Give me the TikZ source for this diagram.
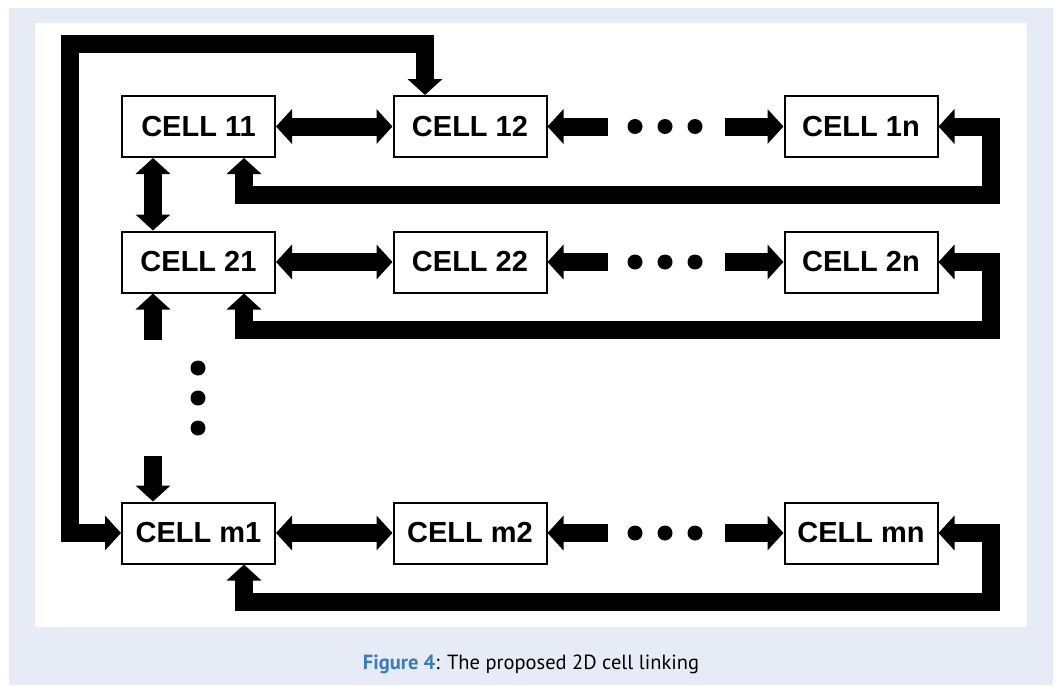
\documentclass[tikz,border=0pt]{standalone}
\usepackage{fontspec}
\setmainfont{Liberation Sans}
\newfontfamily\capfont{PT Sans}
\usetikzlibrary{arrows.meta}
\definecolor{panelblue}{HTML}{E7EBF5}
\definecolor{figblue}{HTML}{3A7BBF}

\begin{document}
\begin{tikzpicture}[
    x=1pt, y=-1pt,
    cell/.style={rectangle, draw=black, line width=2pt, fill=white, minimum width=153pt, minimum height=61pt, inner sep=0pt, font=\fontsize{29}{31}\selectfont\bfseries},
    dot/.style={circle, fill=black, minimum size=15pt, inner sep=0pt},
    arr/.style={line width=18pt, black},
    >={Triangle[width=34pt, length=16pt]}
]
\useasboundingbox (0,0) rectangle (1059,685);
\fill[panelblue] (9,8) rectangle (1053,685);
\fill[white] (35,23) rectangle (1027,627);

\node[cell] (c11) at (198.5,126.5) {CELL 11};
\node[cell] (c12) at (470,126.5)   {CELL 12};
\node[cell] (c1n) at (861,126.5)   {CELL 1n};
\node[cell] (c21) at (198.5,262)   {CELL 21};
\node[cell] (c22) at (470,262)     {CELL 22};
\node[cell] (c2n) at (861,262)     {CELL 2n};
\node[cell] (cm1) at (198.5,533)   {CELL m1};
\node[cell] (cm2) at (470,533)     {CELL m2};
\node[cell] (cmn) at (861,533)     {CELL mn};

\node[dot] (h11) at (635,126.5) {};
\node[dot] (h12) at (665,126.5) {};
\node[dot] (h13) at (695,126.5) {};
\node[dot] (h21) at (635,262) {};
\node[dot] (h22) at (665,262) {};
\node[dot] (h23) at (695,262) {};
\node[dot] (hm1) at (635,533) {};
\node[dot] (hm2) at (665,533) {};
\node[dot] (hm3) at (695,533) {};
\node[dot] (v1) at (198,368) {};
\node[dot] (v2) at (198,398) {};
\node[dot] (v3) at (198,428) {};

\coordinate (a1) at (608,126.5);
\coordinate (b1) at (725,126.5);
\coordinate (a2) at (608,262);
\coordinate (b2) at (725,262);
\coordinate (am) at (608,533);
\coordinate (bm) at (725,533);
\coordinate (r1) at (991,195);
\coordinate (r2) at (991,330);
\coordinate (rm) at (991,602);
\coordinate (top) at (425,44);
\coordinate (lft) at (70,44);
\coordinate (up2) at (153,340);
\coordinate (dnm) at (153,456);

\draw[arr,<->] (c11) -- (c12);
\draw[arr,->] (a1) -- (c12);
\draw[arr,->] (b1) -- (c1n);
\draw[arr,<->] (c21) -- (c22);
\draw[arr,->] (a2) -- (c22);
\draw[arr,->] (b2) -- (c2n);
\draw[arr,<->] (cm1) -- (cm2);
\draw[arr,->] (am) -- (cm2);
\draw[arr,->] (bm) -- (cmn);

\draw[arr,<->] (c1n.east) -| (r1) -| ([xshift=45.5pt]c11.south);
\draw[arr,<->] (c2n.east) -| (r2) -| ([xshift=45.5pt]c21.south);
\draw[arr,<->] (cmn.east) -| (rm) -| ([xshift=45.5pt]cm1.south);

\draw[arr,<->] ([xshift=-45.5pt]c11.south) -- ([xshift=-45.5pt]c21.north);
\draw[arr,->] (up2) -- (up2 |- c21.south);
\draw[arr,->] (dnm) -- (dnm |- cm1.north);
\draw[arr,<->] (top |- c12.north) -- (top) -- (lft) |- (cm1.west);

\node[font=\capfont\fontsize{20.5}{24}\selectfont] (cap) at (531,664)
    {\textcolor{figblue}{\bfseries Figure 4}: The proposed 2D cell linking};
\end{tikzpicture}
\end{document}
